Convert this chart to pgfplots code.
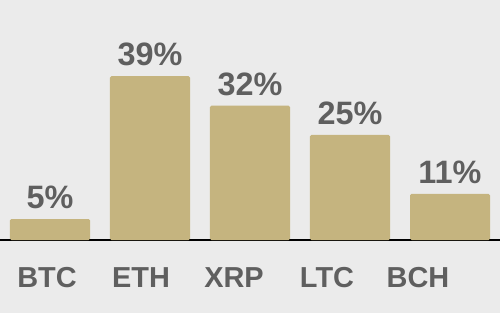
\documentclass[border=0pt]{standalone}
\usepackage{pgfplots}
\pgfplotsset{compat=1.18}
\usepackage{fontspec}
\setmainfont{Liberation Sans}
\definecolor{bg}{HTML}{EBEBEB}
\definecolor{barc}{HTML}{C5B47F}
\definecolor{txt}{HTML}{5F5F5F}
\begin{document}
\begin{tikzpicture}
\fill[bg] (0,-73bp) rectangle (500bp,240bp);
\begin{axis}[
  scale only axis, width=500bp, height=240bp,
  xmin=-0.5, xmax=4.5, ymin=0, ymax=57.142857,
  axis x line=bottom, axis y line=none,
  axis line style={-, black, line width=1.3bp},
  clip=false,
  /pgf/number format/assume math mode=true,
  xtick={-0.03,0.91,1.84,2.77,3.68},
  xticklabels={BTC,ETH,XRP,LTC,BCH},
  major tick length=0pt,
  xticklabel style={font=\fontsize{29}{29}\selectfont\bfseries, text=txt, anchor=base, yshift=-47.5bp},
  ybar, bar width=80bp,
  nodes near coords={\pgfmathprintnumber{\pgfplotspointmeta}\%},
  every node near coord/.append style={font=\fontsize{32.5}{32.5}\selectfont\bfseries, text=txt, anchor=base, yshift=10.5bp, inner sep=0pt},
]
\addplot[fill=barc, draw=none, bar shift=0pt, rounded corners=1.5bp] coordinates {(0,5) (1,39) (2,32) (3,25) (4,11)};
\end{axis}
\pgfresetboundingbox
\useasboundingbox (0,-73bp) rectangle (500bp,240bp);
\end{tikzpicture}
\end{document}
